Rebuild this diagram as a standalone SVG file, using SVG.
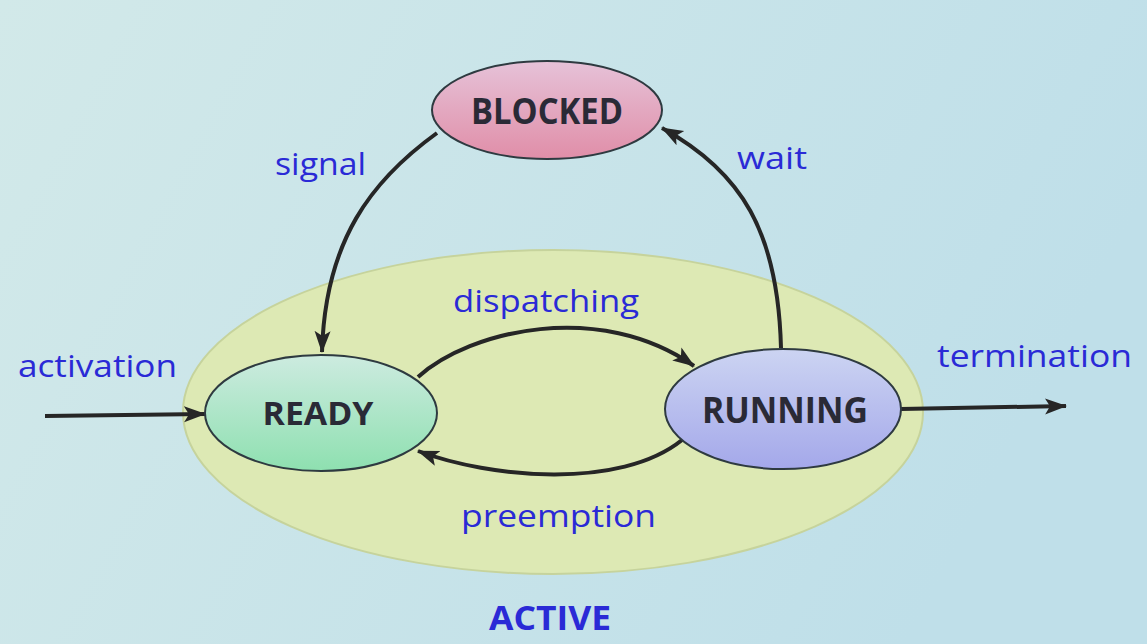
<svg xmlns="http://www.w3.org/2000/svg" width="1147" height="644" viewBox="0 0 1147 644">
<defs>
  <linearGradient id="bg" x1="0" y1="0" x2="1" y2="0.3">
    <stop offset="0" stop-color="#d2e9e9"/>
    <stop offset="1" stop-color="#bfdfe9"/>
  </linearGradient>
  <linearGradient id="gBlocked" x1="0" y1="0" x2="0" y2="1">
    <stop offset="0" stop-color="#e6c2d8"/>
    <stop offset="1" stop-color="#e08ea8"/>
  </linearGradient>
  <linearGradient id="gReady" x1="0" y1="0" x2="0" y2="1">
    <stop offset="0" stop-color="#cdebe0"/>
    <stop offset="1" stop-color="#8ee0b0"/>
  </linearGradient>
  <linearGradient id="gRunning" x1="0" y1="0" x2="0" y2="1">
    <stop offset="0" stop-color="#ccd4f2"/>
    <stop offset="1" stop-color="#a4a8ea"/>
  </linearGradient>
  <marker id="arr" markerUnits="userSpaceOnUse" markerWidth="24" markerHeight="18" refX="21" refY="9" orient="auto">
    <path d="M0,1 L22,9 L0,17 L5,9 Z" fill="#262626"/>
  </marker>
  <style>
    .node { stroke: #2e3a40; stroke-width: 2; }
    .ntext { font-family: "Open Sans", "Liberation Sans", sans-serif; font-weight: bold; fill: #2a2a36; text-anchor: middle; }
    .lbl { font-family: "Open Sans", "Liberation Sans", sans-serif; fill: #2a2ad6; }
    .edge { fill: none; stroke: #262626; stroke-width: 4; marker-end: url(#arr); }
  </style>
</defs>
<rect x="0" y="0" width="1147" height="644" fill="url(#bg)"/>

<g id="active">
  <ellipse cx="553" cy="412" rx="370" ry="162" fill="#dde9b4" stroke="#c6d39c" stroke-width="2"/>
  <text x="489" y="630" class="lbl" font-weight="bold" font-size="34" textLength="122" lengthAdjust="spacingAndGlyphs">ACTIVE</text>
</g>

<g id="connectors">
  <path id="e-signal" class="edge" d="M437,133 C372,180 325,240 322,352"/>
  <path id="e-wait" class="edge" d="M781,348 C778,232 742,172 662,128"/>
  <path id="e-dispatch" class="edge" d="M418,377 C470,330 600,300 694,366"/>
  <path id="e-preempt" class="edge" d="M682,440 C620,490 490,478 418,451"/>
  <path id="e-activation" class="edge" d="M45,416 L205,414"/>
  <path id="e-termination" class="edge" d="M901,409 L1066,406"/>
</g>

<g id="labels">
  <text class="lbl" x="275" y="175" font-size="31" textLength="91" lengthAdjust="spacingAndGlyphs">signal</text>
  <text class="lbl" x="737" y="169" font-size="31" textLength="70" lengthAdjust="spacingAndGlyphs">wait</text>
  <text class="lbl" x="453" y="312" font-size="31" textLength="186" lengthAdjust="spacingAndGlyphs">dispatching</text>
  <text class="lbl" x="461" y="527" font-size="31" textLength="195" lengthAdjust="spacingAndGlyphs">preemption</text>
  <text class="lbl" x="18" y="377" font-size="31" textLength="159" lengthAdjust="spacingAndGlyphs">activation</text>
  <text class="lbl" x="937" y="367" font-size="31" textLength="195" lengthAdjust="spacingAndGlyphs">termination</text>
</g>

<g id="blocked">
  <ellipse class="node" cx="547" cy="110" rx="115" ry="49" fill="url(#gBlocked)"/>
  <text class="ntext" x="547" y="124" font-size="36" textLength="152" lengthAdjust="spacingAndGlyphs">BLOCKED</text>
</g>
<g id="ready">
  <ellipse class="node" cx="321" cy="413" rx="116" ry="58" fill="url(#gReady)"/>
  <text class="ntext" x="318" y="425" font-size="33" textLength="111" lengthAdjust="spacingAndGlyphs">READY</text>
</g>
<g id="running">
  <ellipse class="node" cx="783" cy="409" rx="118" ry="60" fill="url(#gRunning)"/>
  <text class="ntext" x="785" y="423" font-size="36" textLength="166" lengthAdjust="spacingAndGlyphs">RUNNING</text>
</g>
</svg>
